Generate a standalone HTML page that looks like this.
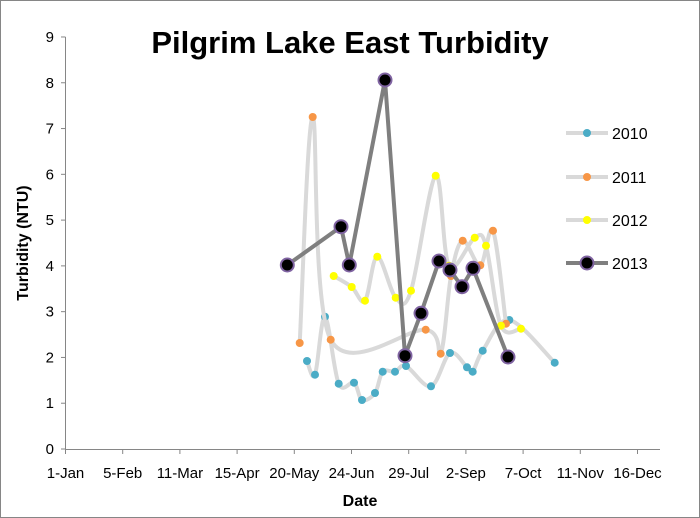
<!DOCTYPE html>
<html><head><meta charset="utf-8"><style>
body{margin:0;background:#fff}
svg{display:block;font-family:"Liberation Sans",Arial,sans-serif}
</style></head><body>
<svg id="s" width="700" height="518" viewBox="0 0 700 518">
<rect x="0.5" y="0.5" width="699" height="517" fill="#fff" stroke="#868686"/>
<text x="350" y="53" text-anchor="middle" font-size="31" font-weight="bold">Pilgrim Lake East Turbidity</text>
<g stroke="#868686" stroke-width="1">
<line x1="65.5" y1="37" x2="65.5" y2="449"/>
<line x1="65.5" y1="449.5" x2="660" y2="449.5"/>
</g>
<g id="ticks" stroke="#868686"></g>
<g font-size="15" text-anchor="end" id="yl"></g>
<g font-size="15" text-anchor="middle" id="xl"></g>
<text x="360" y="506" text-anchor="middle" font-size="16" font-weight="bold">Date</text>
<text transform="translate(28,243) rotate(-90)" text-anchor="middle" font-size="16" font-weight="bold">Turbidity (NTU)</text>
<g id="series"></g>
<g id="legend" font-size="16"></g>
</svg>
<script>
var ns="http://www.w3.org/2000/svg";
function el(p,t,a,txt){var e=document.createElementNS(ns,t);for(var k in a)e.setAttribute(k,a[k]);if(txt!=null)e.textContent=txt;p.appendChild(e);return e;}
var tk=document.getElementById('ticks'),yl=document.getElementById('yl'),xl=document.getElementById('xl');
for(var i=0;i<=9;i++){var y=449-i*45.78;el(tk,'line',{x1:61,x2:65.5,y1:y,y2:y});el(yl,'text',{x:54,y:y+5},i);}
var labs=["1-Jan","5-Feb","11-Mar","15-Apr","20-May","24-Jun","29-Jul","2-Sep","7-Oct","11-Nov","16-Dec"];
for(var i=0;i<labs.length;i++){var x=65.5+i*57.2;el(tk,'line',{x1:x,x2:x,y1:449,y2:454});el(xl,'text',{x:x,y:478},labs[i]);}
function smooth(p){var d="M"+p[0][0]+","+p[0][1];for(var i=0;i<p.length-1;i++){var p0=p[i-1]||p[i],p1=p[i],p2=p[i+1],p3=p[i+2]||p2;var t=6;d+=" C"+(p1[0]+(p2[0]-p0[0])/t)+","+(p1[1]+(p2[1]-p0[1])/t)+" "+(p2[0]-(p3[0]-p1[0])/t)+","+(p2[1]-(p3[1]-p1[1])/t)+" "+p2[0]+","+p2[1];}return d;}
var S=document.getElementById('series');
var b=[[307,361],[315,374.7],[325,316.7],[338.7,383.7],[354,382.7],[362,400],[375,393],[382.7,371.7],[395,371.7],[406,366],[431,386.3],[450,353],[467,367.3],[472.7,371.7],[482.7,350.7],[509.3,320],[554.7,362.7]];
var o=[[299.7,343],[312.7,117],[330.7,339.7],[425.7,329.7],[440.7,353.7],[451,276],[462.7,240.7],[480.3,265.3],[493,230.7],[506,323.7]];
var yw=[[333.7,276],[351.7,287],[365,300.7],[377.3,256.7],[395.7,297.7],[411,290.7],[435.7,175.7],[449,265.7],[474.7,237.7],[486,245.7],[501,325.7],[521,328.7]];
var k=[[287.3,265],[341,226.7],[349.3,265],[385,80],[405,355.7],[421,313.3],[439,261],[450,270],[462,286.7],[473,268.3],[508,357]];
[[b,"#4bacc6"],[o,"#f79646"],[yw,"#ffff00"]].forEach(function(s){
 el(S,'path',{d:smooth(s[0]),fill:"none",stroke:"#d9d9d9","stroke-width":4});
 s[0].forEach(function(p){el(S,'circle',{cx:p[0],cy:p[1],r:4,fill:s[1]});});
});
el(S,'polyline',{points:k.map(function(p){return p.join(',')}).join(' '),fill:"none",stroke:"#7f7f7f","stroke-width":4});
k.forEach(function(p){el(S,'circle',{cx:p[0],cy:p[1],r:6.5,fill:"#000",stroke:"#8064a2","stroke-width":2});});
var L=document.getElementById('legend');
[["2010","#4bacc6",133],["2011","#f79646",177],["2012","#ffff00",220],["2013","#000",263]].forEach(function(l,i){
 el(L,'line',{x1:566,x2:608,y1:l[2],y2:l[2],stroke:i==3?"#7f7f7f":"#d9d9d9","stroke-width":4});
 if(i==3)el(L,'circle',{cx:587,cy:l[2],r:6.5,fill:"#000",stroke:"#8064a2","stroke-width":2});
 else el(L,'circle',{cx:587,cy:l[2],r:4,fill:l[1]});
 el(L,'text',{x:612,y:l[2]+6},l[0]);
});
</script>
</body></html>
